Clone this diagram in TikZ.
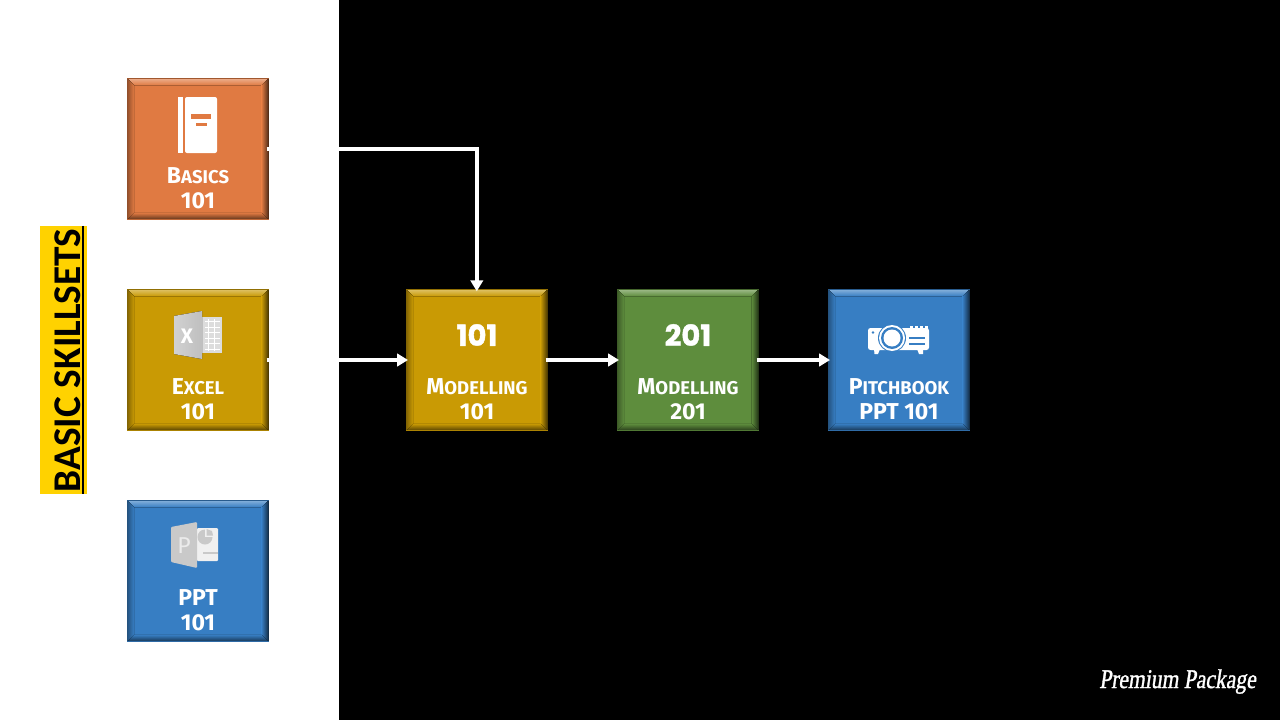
\documentclass[tikz,border=0pt]{standalone}
\usepackage{fontspec}
\usetikzlibrary{arrows.meta,calc}
\setmainfont{Fira Sans}
\newfontfamily\labelfont{Carlito}
\newfontfamily\numfont[FakeBold=1.5]{Poppins}
\newfontfamily\signfont[FakeStretch=0.8,FakeSlant=0.15,FakeBold=1.2]{Liberation Serif}
\definecolor{cOrange}{HTML}{E07A42}
\definecolor{cGold}{HTML}{C99A04}
\definecolor{cGreen}{HTML}{5E8D3D}
\definecolor{cBlue}{HTML}{377EC3}
\definecolor{cYellow}{HTML}{FFD200}
\definecolor{iconGray}{HTML}{C9C9C9}
\definecolor{iconLight}{HTML}{DCDCDC}
\newcommand\bigsmall[2]{{\fontsize{23}{25}\selectfont #1}{\fontsize{18.5}{25}\selectfont #2}}
\newcommand\bevelbox[4]{%
  \node[boxbase,fill=#4] (#1) at (#2,#3) {};
  \fill[top color=#4!60!white,bottom color=#4] (#1.north west) -- (#1.north east) -- ++(-7,7) -- ($(#1.north west)+(7,7)$) -- cycle;
  \fill[left color=#4,right color=#4!35!black] (#1.north east) -- (#1.south east) -- ++(-7,-7) -- ($(#1.north east)+(-7,7)$) -- cycle;
  \fill[left color=#4!65!black,right color=#4] (#1.north west) -- (#1.south west) -- ++(7,-7) -- ($(#1.north west)+(7,7)$) -- cycle;
  \fill[top color=#4,bottom color=#4!40!black] (#1.south west) -- (#1.south east) -- ++(-7,-7) -- ($(#1.south west)+(7,-7)$) -- cycle;
  \fill[#4!72!black] ($(#1.north west)$) rectangle ($(#1.north east)+(0,1.2)$);
  \fill[#4!85!black] ($(#1.south west)$) rectangle ($(#1.south east)+(0,-1)$);
}
\tikzset{
  boxbase/.style={rectangle,minimum width=141.5pt,minimum height=141.5pt,inner sep=0pt,outer sep=0pt},
  boxtext/.style={text=white,align=center,font=\fontsize{23}{25}\selectfont\bfseries,inner sep=0pt},
  bignum/.style={text=white,inner sep=0pt,font=\numfont\fontsize{29}{29}\selectfont\bfseries},
  flow/.style={white,line width=3.4pt,-{Triangle[length=11pt,width=12.5pt]},shorten >=-2pt,shorten <=-2pt},
}
\begin{document}
\begin{tikzpicture}[x=1pt,y=-1pt]
\useasboundingbox (0,0) rectangle (1280,720);
\fill[white] (0,0) rectangle (339,720);
\fill[black] (339,0) rectangle (1280,720);
% label
\node[rectangle,fill=cYellow,minimum width=47pt,minimum height=268pt,inner sep=0pt] (skill) at (63.5,360) {};
\node[rotate=90,inner sep=0pt,anchor=base,text=black,font=\labelfont\fontsize{39.3}{39}\selectfont\bfseries] (skilltext) at (80,360.5) {BASIC SKILLSETS};
\draw[black,line width=1.6pt] (skill.north east) ++(-4,0) -- ($(skill.south east)+(-4,0)$);
% boxes
\bevelbox{basics}{197.8}{149}{cOrange}
\bevelbox{excel}{197.8}{360}{cGold}
\bevelbox{ppt}{197.8}{571}{cBlue}
\bevelbox{modA}{476.8}{360}{cGold}
\bevelbox{modB}{687.8}{360}{cGreen}
\bevelbox{pitch}{898.8}{360}{cBlue}
% connectors
\draw[flow] (basics.east) -| (modA.north);
\draw[flow] (excel.east) -- (modA.west);
\draw[flow] (modA.east) -- (modB.west);
\draw[flow] (modB.east) -- (pitch.west);
% texts
\node[boxtext] (tBasics) at (198,188) {\bigsmall{B}{ASICS}\\101};
\node[boxtext] (tExcel) at (198,399) {\bigsmall{E}{XCEL}\\101};
\node[boxtext] (tPpt) at (198,610) {PPT\\101};
\node[boxtext] (tModA) at (477,399) {\bigsmall{M}{ODELLING}\\101};
\node[boxtext] (tModB) at (688,399) {\bigsmall{M}{ODELLING}\\201};
\node[boxtext] (tPitch) at (899,399) {\bigsmall{P}{ITCHBOOK}\\PPT 101};
\node[bignum] (numA) at (477,335) {101};
\node[bignum] (numB) at (688,335) {201};
% book icon
\fill[white] (178,97) rectangle (182.5,153);
\fill[white,rounded corners=2pt] (185,97) -- (217,97) -- (217,153) -- (185,153) -- cycle;
\fill[cOrange] (191,114) rectangle (211,118.5);
\fill[cOrange] (195.5,122.5) rectangle (207,125.5);
% excel icon
\fill[iconLight] (202,317) rectangle (222,353);
\foreach \yy in {321,326.5,332,337.5,343,348.5}{\fill[white] (205,\yy) rectangle (219.5,\yy+1.2);}
\foreach \xx in {208,213.5}{\fill[white] (\xx,318.5) rectangle (\xx+1,351);}
\fill[left color=iconGray!85!white,right color=iconGray!95!black] (174,316) -- (202,311) -- (202,359) -- (174,354) -- cycle;
\node[text=white,inner sep=0pt,font=\fontsize{21}{21}\selectfont\bfseries] (xlet) at (187,336) {X};
% ppt icon
\fill[white!94!black,rounded corners=1pt] (197,528) rectangle (218,561);
\fill[iconGray] (205,537) circle (7.5pt);
\fill[white!94!black] (205,537) -- (205,528) -- (214,528) -- (214,537) -- cycle;
\fill[iconGray] (206.5,529) -- (206.5,535.5) -- (213,535.5) -- (212,531) -- cycle;
\fill[iconGray] (203,552) rectangle (218,554);
\fill[iconGray,rounded corners=1pt] (171,527) -- (197,522) -- (197,568) -- (171,562) -- cycle;
\node[text=white!92!black,inner sep=0pt,font=\fontsize{23}{23}\selectfont] (plet) at (184,546) {P};
% projector icon
\fill[white,rounded corners=2.5pt] (868,328) rectangle (929,350);
\foreach \xx in {910,915,920,925}{\fill[white] (\xx,326) rectangle (\xx+3,330);}
\fill[white] (874,349) -- (880,349) -- (878,354) -- (874.5,354) -- cycle;
\fill[white] (917,349) -- (923,349) -- (923,354) -- (919,354) -- cycle;
\fill[cBlue] (892,338) circle (14pt);
\fill[white] (892,338) circle (13pt);
\fill[cBlue] (892,338) circle (11pt);
\fill[white] (892,338) circle (8.5pt);
\fill[cBlue] (873,332.5) circle (1.3pt);
\fill[cBlue] (909,336.5) rectangle (925,338.5);
\fill[cBlue] (909,342.5) rectangle (925,344.5);
% signature
\node[text=white,inner sep=0pt,anchor=base east,font=\signfont\fontsize{27}{27}\selectfont] (sign) at (1256,688) {Premium Package};
\end{tikzpicture}
\end{document}
